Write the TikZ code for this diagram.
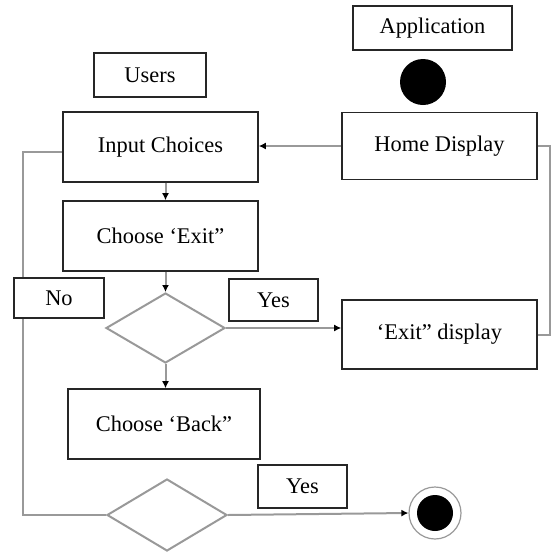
\documentclass[tikz,border=0pt]{standalone}
\usepackage{fontspec}
\setmainfont{Liberation Serif}
\usetikzlibrary{shapes.geometric,arrows.meta,calc}
\begin{document}
\begin{tikzpicture}[x=0.5pt,y=-0.5pt,
  font=\fontsize{11.2}{13}\selectfont,
  box/.style={draw=black!85,line width=0.8pt,fill=white,inner sep=0pt,align=center},
  lbl/.style={box},
  decide/.style={diamond,draw=black!40,line width=1pt,fill=white,inner sep=0pt},
  flow/.style={draw=black!40,line width=1pt},
  arr/.style={flow,-{Latex[length=3.5pt,width=3.5pt,color=black]}}]
\useasboundingbox (0,0) rectangle (552,552);

% swimlane captions
\node[lbl,minimum width=56pt,minimum height=22pt] (users) at (150,75) {Users};
\node[lbl,minimum width=79.5pt,minimum height=22pt] (app) at (432.5,28) {Application};

% initial state
\node[circle,fill=black,minimum size=23pt,inner sep=0pt] (start) at (423,82) {};

% activities
\node[box,minimum width=97.5pt,minimum height=35pt] (ic) at (160.5,147) {Input Choices};
\node[box,minimum width=97.5pt,minimum height=33.5pt] (hd) at (439.5,146) {Home Display};
\node[box,minimum width=97.5pt,minimum height=35pt] (ce) at (160.5,236) {Choose ‘Exit”};
\node[box,minimum width=97.5pt,minimum height=34.5pt] (ex) at (439.5,334.5) {‘Exit” display};
\node[box,minimum width=96pt,minimum height=35pt] (cb) at (164,424) {Choose ‘Back”};

% decisions
\node[decide,minimum width=59.5pt,minimum height=35pt] (d1) at (165.5,328) {};
\node[decide,minimum width=60pt,minimum height=36pt] (d2) at (167,515) {};

% final state
\node[circle,draw=black!40,line width=0.6pt,minimum size=26pt,inner sep=0pt] (end) at (435,513) {};
\node[circle,fill=black,minimum size=18pt,inner sep=0pt] (endin) at (end.center) {};

% connectors
\draw[arr] (hd.west) -- (hd.west -| ic.east);
\draw[arr] (d1.north |- ic.south) -- (d1.north |- ce.north);
\draw[arr] (d1.north |- ce.south) -- (d1.north);
\draw[arr] (d1.south) -- (d1.south |- cb.north);
\draw[arr] (d1.east) -- (d1.east -| ex.west);
\draw[flow] (ex.east) -- ++(12,0) |- (hd.east);
\coordinate (loop) at (23,152);
\draw[flow] (d2.west) -| (loop) -- (loop -| ic.west);
\draw[arr] (d2.east) -- (end.west);

% guard labels
\node[lbl,minimum width=45pt,minimum height=20pt] (no) at (59,298) {No};
\node[lbl,minimum width=44.5pt,minimum height=21pt] (yes1) at (273.5,300) {Yes};
\node[lbl,minimum width=44.5pt,minimum height=21.5pt] (yes2) at (302.5,486.5) {Yes};
\end{tikzpicture}
\end{document}
